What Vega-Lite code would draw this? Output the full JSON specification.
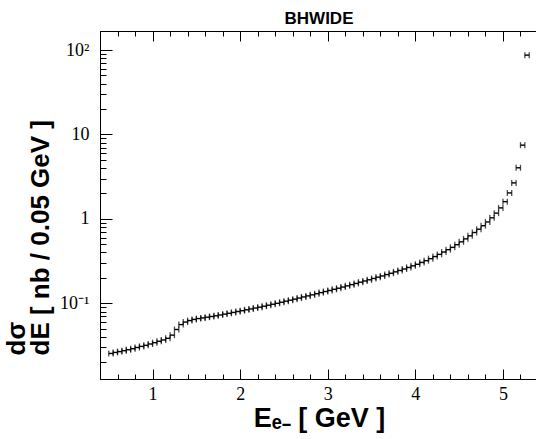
{
  "$schema": "https://vega.github.io/schema/vega-lite/v6.json",
  "width": 438,
  "height": 348,
  "autosize": {"type": "none"},
  "padding": {"left": 100, "top": 31, "right": 0, "bottom": 60},
  "background": "white",
  "title": {"text": "BHWIDE", "font": "Liberation Sans", "fontWeight": "bold", "fontSize": 17, "color": "black", "baseline": "alphabetic", "offset": 9, "dy": 19},
  "config": {"view": {"stroke": "black", "strokeWidth": 1}},
  "data": {"values": [
    {"lo":0.50,"hi":0.55,"v":0.0255},{"lo":0.55,"hi":0.60,"v":0.0262},{"lo":0.60,"hi":0.65,"v":0.0268},{"lo":0.65,"hi":0.70,"v":0.0275},
    {"lo":0.70,"hi":0.75,"v":0.0282},{"lo":0.75,"hi":0.80,"v":0.0290},{"lo":0.80,"hi":0.85,"v":0.0300},{"lo":0.85,"hi":0.90,"v":0.0309},
    {"lo":0.90,"hi":0.95,"v":0.0318},{"lo":0.95,"hi":1.00,"v":0.0330},{"lo":1.00,"hi":1.05,"v":0.0342},{"lo":1.05,"hi":1.10,"v":0.0355},
    {"lo":1.10,"hi":1.15,"v":0.0368},{"lo":1.15,"hi":1.20,"v":0.0385},{"lo":1.20,"hi":1.25,"v":0.0420},{"lo":1.25,"hi":1.30,"v":0.0490},
    {"lo":1.30,"hi":1.35,"v":0.0560},{"lo":1.35,"hi":1.40,"v":0.0600},{"lo":1.40,"hi":1.45,"v":0.0625},{"lo":1.45,"hi":1.50,"v":0.0645},
    {"lo":1.50,"hi":1.55,"v":0.0660},{"lo":1.55,"hi":1.60,"v":0.0672},{"lo":1.60,"hi":1.65,"v":0.0685},{"lo":1.65,"hi":1.70,"v":0.0698},
    {"lo":1.70,"hi":1.75,"v":0.0712},{"lo":1.75,"hi":1.80,"v":0.0728},{"lo":1.80,"hi":1.85,"v":0.0745},{"lo":1.85,"hi":1.90,"v":0.0762},
    {"lo":1.90,"hi":1.95,"v":0.0780},{"lo":1.95,"hi":2.00,"v":0.0800},{"lo":2.00,"hi":2.05,"v":0.0818},{"lo":2.05,"hi":2.10,"v":0.0838},
    {"lo":2.10,"hi":2.15,"v":0.0858},{"lo":2.15,"hi":2.20,"v":0.0880},{"lo":2.20,"hi":2.25,"v":0.0900},{"lo":2.25,"hi":2.30,"v":0.0925},
    {"lo":2.30,"hi":2.35,"v":0.0950},{"lo":2.35,"hi":2.40,"v":0.0975},{"lo":2.40,"hi":2.45,"v":0.1000},{"lo":2.45,"hi":2.50,"v":0.1030},
    {"lo":2.50,"hi":2.55,"v":0.1060},{"lo":2.55,"hi":2.60,"v":0.1090},{"lo":2.60,"hi":2.65,"v":0.1120},{"lo":2.65,"hi":2.70,"v":0.1155},
    {"lo":2.70,"hi":2.75,"v":0.1190},{"lo":2.75,"hi":2.80,"v":0.1225},{"lo":2.80,"hi":2.85,"v":0.1260},{"lo":2.85,"hi":2.90,"v":0.1300},
    {"lo":2.90,"hi":2.95,"v":0.1340},{"lo":2.95,"hi":3.00,"v":0.1380},{"lo":3.00,"hi":3.05,"v":0.1420},{"lo":3.05,"hi":3.10,"v":0.1465},
    {"lo":3.10,"hi":3.15,"v":0.1510},{"lo":3.15,"hi":3.20,"v":0.1560},{"lo":3.20,"hi":3.25,"v":0.1610},{"lo":3.25,"hi":3.30,"v":0.1665},
    {"lo":3.30,"hi":3.35,"v":0.1720},{"lo":3.35,"hi":3.40,"v":0.1780},{"lo":3.40,"hi":3.45,"v":0.1840},{"lo":3.45,"hi":3.50,"v":0.1900},
    {"lo":3.50,"hi":3.55,"v":0.1970},{"lo":3.55,"hi":3.60,"v":0.2040},{"lo":3.60,"hi":3.65,"v":0.2110},{"lo":3.65,"hi":3.70,"v":0.2190},
    {"lo":3.70,"hi":3.75,"v":0.2270},{"lo":3.75,"hi":3.80,"v":0.2360},{"lo":3.80,"hi":3.85,"v":0.2450},{"lo":3.85,"hi":3.90,"v":0.2550},
    {"lo":3.90,"hi":3.95,"v":0.2660},{"lo":3.95,"hi":4.00,"v":0.2780},{"lo":4.00,"hi":4.05,"v":0.2900},{"lo":4.05,"hi":4.10,"v":0.3050},
    {"lo":4.10,"hi":4.15,"v":0.3200},{"lo":4.15,"hi":4.20,"v":0.3380},{"lo":4.20,"hi":4.25,"v":0.3580},{"lo":4.25,"hi":4.30,"v":0.3800},
    {"lo":4.30,"hi":4.35,"v":0.4050},{"lo":4.35,"hi":4.40,"v":0.4320},{"lo":4.40,"hi":4.45,"v":0.4600},{"lo":4.45,"hi":4.50,"v":0.4950},
    {"lo":4.50,"hi":4.55,"v":0.5350},{"lo":4.55,"hi":4.60,"v":0.5800},{"lo":4.60,"hi":4.65,"v":0.6300},{"lo":4.65,"hi":4.70,"v":0.6900},
    {"lo":4.70,"hi":4.75,"v":0.7550},{"lo":4.75,"hi":4.80,"v":0.8300},{"lo":4.80,"hi":4.85,"v":0.9200},{"lo":4.85,"hi":4.90,"v":1.030},
    {"lo":4.90,"hi":4.95,"v":1.170},{"lo":4.95,"hi":5.00,"v":1.350},{"lo":5.00,"hi":5.05,"v":1.600},{"lo":5.05,"hi":5.10,"v":2.030},
    {"lo":5.10,"hi":5.15,"v":2.670},{"lo":5.15,"hi":5.20,"v":4.030},{"lo":5.20,"hi":5.25,"v":7.470},{"lo":5.25,"hi":5.30,"v":87.0}
  ]},
  "layer": [
    {
      "mark": {"type": "rule", "color": "black", "strokeWidth": 1.4},
      "encoding": {
        "x": {"field": "lo", "type": "quantitative",
          "scale": {"domain": [0.4, 5.4], "nice": false, "zero": false},
          "axis": {"orient": "bottom", "grid": false,
            "values": [0.6,0.8,1,1.2,1.4,1.6,1.8,2,2.2,2.4,2.6,2.8,3,3.2,3.4,3.6,3.8,4,4.2,4.4,4.6,4.8,5,5.2],
            "labelExpr": "abs(datum.value - round(datum.value)) < 0.001 ? format(datum.value, 'd') : ''",
            "tickSize": {"condition": {"test": "abs(datum.value - round(datum.value)) < 0.001", "value": -10}, "value": -5},
            "tickColor": "black", "domainColor": "black", "labelColor": "black",
            "labelFont": "Liberation Serif", "labelFontSize": 18, "labelPadding": 16,
            "title": "Eₑ₋ [ GeV ]", "titleFont": "Liberation Sans", "titleFontWeight": "bold", "titleFontSize": 27, "titleColor": "black", "titlePadding": 2}},
        "x2": {"field": "hi"},
        "y": {"field": "v", "type": "quantitative",
          "scale": {"type": "log", "domain": [0.0127, 168], "nice": false},
          "axis": {"orient": "left", "grid": false,
            "values": [0.02,0.03,0.04,0.05,0.06,0.07,0.08,0.09,0.1,0.2,0.3,0.4,0.5,0.6,0.7,0.8,0.9,1,2,3,4,5,6,7,8,9,10,20,30,40,50,60,70,80,90,100],
            "labelExpr": "datum.value == 100 ? '10²' : datum.value == 10 ? '10' : datum.value == 1 ? '1' : datum.value == 0.1 ? '10⁻¹' : ''",
            "tickSize": {"condition": {"test": "datum.value == 100 || datum.value == 10 || datum.value == 1 || datum.value == 0.1", "value": -12}, "value": -6},
            "tickColor": "black", "domainColor": "black", "labelColor": "black",
            "labelFont": "Liberation Serif", "labelFontSize": 18, "labelPadding": 23,
            "title": ["dσ", "dE [ nb / 0.05 GeV ]"], "titleFont": "Liberation Sans", "titleFontWeight": "bold", "titleFontSize": 26, "titleLineHeight": 24,
            "titleColor": "black", "titleAngle": -90, "titleAlign": "left", "titleBaseline": "top", "titleX": -97, "titleY": 324}}
      }
    },
    {
      "mark": {"type": "tick", "orient": "vertical", "size": 6, "thickness": 1.3, "color": "black"},
      "encoding": {
        "x": {"field": "lo", "type": "quantitative",
          "axis": {"orient": "top", "grid": false, "labels": false, "title": null,
            "values": [0.6,0.8,1,1.2,1.4,1.6,1.8,2,2.2,2.4,2.6,2.8,3,3.2,3.4,3.6,3.8,4,4.2,4.4,4.6,4.8,5,5.2],
            "tickSize": {"condition": {"test": "abs(datum.value - round(datum.value)) < 0.001", "value": -10}, "value": -5},
            "tickColor": "black", "domainColor": "black"}},
        "y": {"field": "v", "type": "quantitative"}
      }
    },
    {
      "mark": {"type": "tick", "orient": "vertical", "size": 6, "thickness": 1.3, "color": "black"},
      "encoding": {
        "x": {"field": "hi", "type": "quantitative", "axis": null},
        "y": {"field": "v", "type": "quantitative"}
      }
    }
  ]
}
